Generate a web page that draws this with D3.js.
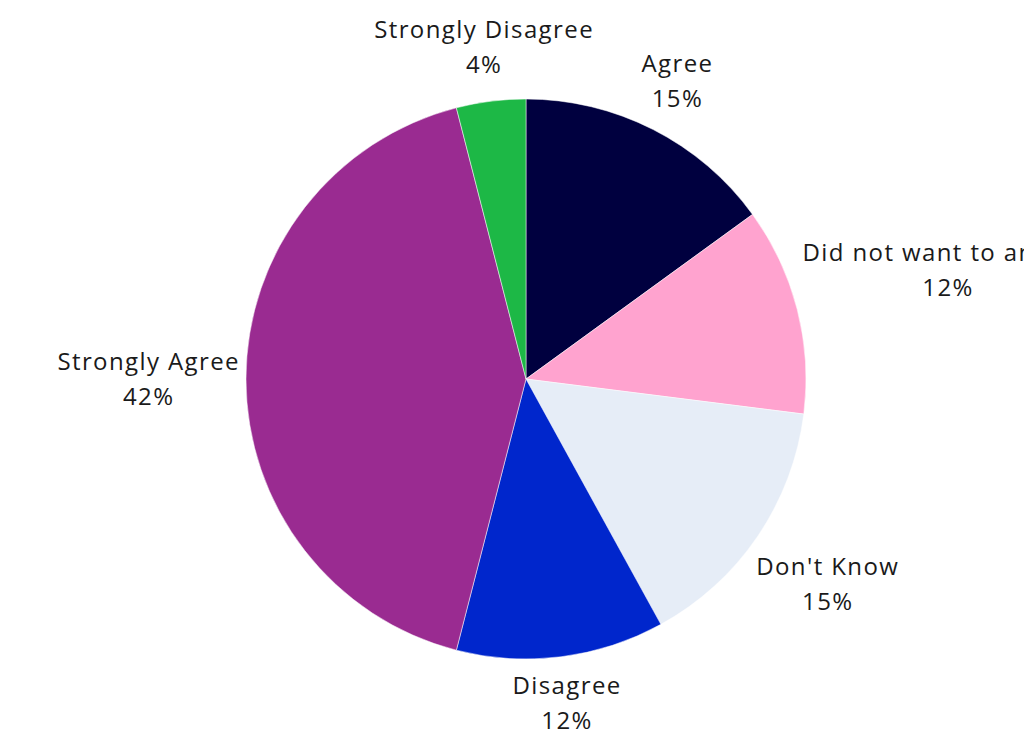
<!DOCTYPE html>
<html>
<head>
<meta charset="utf-8">
<script src="https://cdn.jsdelivr.net/npm/d3@7"></script>
<style>
  body { margin: 0; background: #fff; }
  svg { display: block; overflow: hidden; }
  .lbl { font-family: "Open Sans", sans-serif; font-size: 24px; letter-spacing: 1.4px; fill: #1a1a1a; }
</style>
</head>
<body>
<div id="chart"></div>
<script>
// data, clockwise from 12 o'clock
const categories = ["Agree", "Did not want to answer", "Don't Know", "Disagree", "Strongly Agree", "Strongly Disagree"];
const values = [15, 12, 15, 12, 42, 4];
const colors = ["#00003f", "#ffa3cf", "#e6edf7", "#0026cc", "#9a2b91", "#1db846"];

const width = 1024, height = 741;
const cx = 526, cy = 379, radius = 280;
const labelGap = 286; // distance from centre to nearest edge of label box
const lineStep = 35;

const svg = d3.select("#chart").append("svg")
  .attr("width", width)
  .attr("height", height);

const g = svg.append("g").attr("transform", `translate(${cx},${cy})`);

const pie = d3.pie().sort(null).value(d => d.value);
const arc = d3.arc().innerRadius(0).outerRadius(radius);

const data = categories.map((c, i) => ({ name: c, value: values[i], color: colors[i] }));
const arcs = pie(data);

g.selectAll("path.slice")
  .data(arcs)
  .join("path")
  .attr("class", "slice")
  .attr("d", arc)
  .attr("fill", d => d.data.color)
  .attr("stroke", "#fff")
  .attr("stroke-width", 0.5);

// labels: box pushed out along the mid angle so its nearest edge sits at labelGap
const labels = g.selectAll("g.label")
  .data(arcs)
  .join("g")
  .attr("class", "label");

labels.append("text")
  .attr("class", "lbl")
  .attr("text-anchor", "middle")
  .attr("y", -lineStep / 2 + 8)
  .text(d => d.data.name);

labels.append("text")
  .attr("class", "lbl")
  .attr("text-anchor", "middle")
  .attr("y", lineStep / 2 + 8)
  .text(d => Math.round(d.data.value) + "%");

labels.attr("transform", function(d) {
  const a = (d.startAngle + d.endAngle) / 2;
  const w = d3.max(d3.select(this).selectAll("text").nodes(), n => n.getBBox().width);
  const h = lineStep * 2;
  const r = labelGap + (w / 2) * Math.abs(Math.sin(a)) + (h / 2) * Math.abs(Math.cos(a));
  return `translate(${r * Math.sin(a)},${-r * Math.cos(a)})`;
});
</script>
</body>
</html>
